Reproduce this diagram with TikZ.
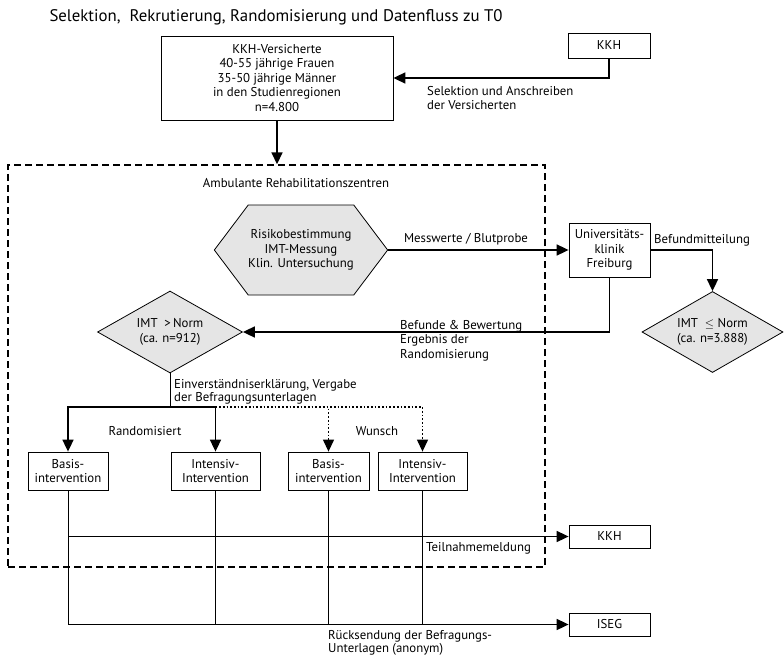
\documentclass[tikz,border=0pt]{standalone}
\usepackage{fontspec}
\setmainfont{PT Sans}
\usetikzlibrary{arrows.meta,shapes.geometric,shapes.symbols}
\newcommand{\chu}{\fontsize{12.8}{14.5}\selectfont}
\tikzset{
  box/.style={draw, line width=0.8pt, fill=white, align=center, inner sep=1pt},
  greybox/.style={draw, line width=0.8pt, fill=black!10, align=center, inner sep=0pt},
  lbl/.style={align=left, inner sep=0pt},
  arr/.style={line width=1.7pt, -{Triangle[length=12pt,width=11pt]}},
  ln/.style={line width=1pt},
}
\begin{document}
\begin{tikzpicture}[x=1pt, y=-1pt, font=\chu]
\useasboundingbox (0,0) rectangle (784,658);
% Tiêu đề
\node[anchor=west, font=\fontsize{16.8}{19}\selectfont] (title) at (46,17) {Selektion,\ \ Rekrutierung, Randomisierung und Datenfluss zu T0};

% Khung nét đứt
\node[draw, dash pattern=on 7pt off 4pt, line width=1.4pt, minimum width=537pt, minimum height=402pt, inner sep=0pt] (zentren) at (276.5,366) {};
\node (amb) at (296,183) {Ambulante Rehabilitationszentren};

% Các hộp
\node[box, minimum width=232pt, minimum height=84pt] (versich) at (277,78) {KKH-Versicherte\\40-55 jährige Frauen\\35-50 jährige Männer\\in den Studienregionen\\n=4.800};
\node[box, minimum width=82pt, minimum height=25pt] (kkhA) at (609,45.5) {KKH};
\node[greybox, shape=signal, signal to=east and west, signal pointer angle=106, minimum width=170pt, minimum height=90pt] (risiko) at (301,250) {Risikobestimmung\\IMT-Messung\\Klin. Untersuchung};
\node[box, minimum width=81pt, minimum height=54pt] (uni) at (609.5,250) {Universitäts-\\klinik\\Freiburg};
\node[greybox, diamond, aspect=1.75, minimum width=141pt, minimum height=81pt] (normOk) at (712.5,332) {IMT\ \ $\leq$ Norm\\(ca. n=3.888)};
\node[greybox, diamond, aspect=1.75, minimum width=145pt, minimum height=82pt] (normHi) at (170,332) {IMT\ \ >\,Norm\\(ca. n=912)};
\node[box, minimum width=80pt, minimum height=38pt] (basisR) at (68,471) {Basis-\\intervention};
\node[box, minimum width=89pt, minimum height=38pt] (intensivR) at (215.5,471) {Intensiv-\\Intervention};
\node[box, minimum width=81pt, minimum height=38pt] (basisW) at (328.5,471) {Basis-\\intervention};
\node[box, minimum width=89pt, minimum height=38pt] (intensivW) at (422.5,471) {Intensiv-\\Intervention};
\node[box, minimum width=81pt, minimum height=23pt] (kkhB) at (609.5,536.5) {KKH};
\node[box, minimum width=81pt, minimum height=23pt] (iseg) at (609.5,624.5) {ISEG};

% Các mũi tên
\draw[arr] (kkhA.south) |- (versich.east);
\draw[arr] (versich.south) -- (versich.south |- zentren.north);
\draw[arr] (risiko.east) -- (uni.west);
\draw[arr] (uni.east) -| (normOk.north);
\draw[arr] (uni.south) |- (normHi.east);
\coordinate (split) at (170,407);
\draw[ln] (normHi.south) -- (split);
\draw[arr] (split) -| (basisR.north);
\draw[arr] (split) -| (intensivR.north);
\draw[arr, dotted, line width=1.2pt] (intensivR.north |- split) -| (basisW.north);
\draw[arr, dotted, line width=1.2pt] (intensivR.north |- split) -| (intensivW.north);
\foreach \b in {basisR,intensivR,basisW,intensivW}
  \draw[ln] (\b.south) -- (\b.south |- iseg.west);
\draw[arr] (basisR.south |- kkhB.west) -- (kkhB.west);
\draw[arr] (basisR.south |- iseg.west) -- (iseg.west);

% Nhãn
\node[lbl, anchor=north west] (selLbl) at (427,86) {Selektion und Anschreiben\\der Versicherten};
\node (messLbl) at (466,239) {Messwerte / Blutprobe};
\node[lbl, anchor=west] (befLbl) at (654,240) {Befundmitteilung};
\node[lbl, anchor=north west] (bewLbl) at (400,320) {Befunde \& Bewertung\\Ergebnis der\\Randomisierung};
\node[lbl, anchor=north west, font=\fontsize{12.8}{13.5}\selectfont] (einvLbl) at (174,379) {Einverständniserklärung, Vergabe\\der Befragungsunterlagen};
\node (randLbl) at (145,431) {Randomisiert};
\node (wunschLbl) at (377,431) {Wunsch};
\node[lbl, anchor=west] (teilLbl) at (426,548) {Teilnahmemeldung};
\node[lbl, anchor=north west, font=\fontsize{12.8}{13}\selectfont] (rueckLbl) at (328,630) {Rücksendung der Befragungs-\\Unterlagen (anonym)};
\end{tikzpicture}
\end{document}
